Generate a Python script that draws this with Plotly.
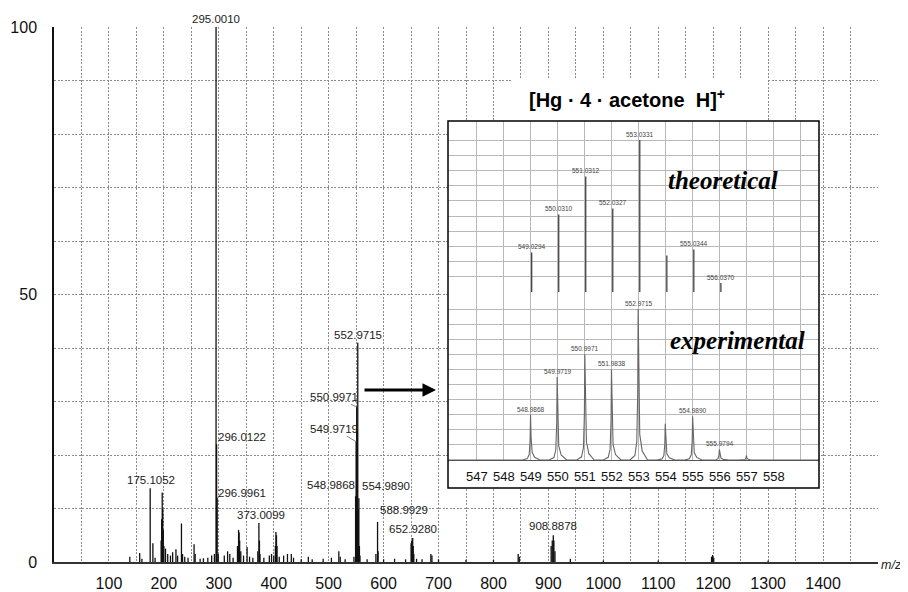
import plotly.graph_objects as go

# ---------------- data: main spectrum (m/z, relative intensity) ----------------
main_mz = [138, 156, 160, 175.1052, 180, 184, 195, 196, 197, 198, 199, 200, 203, 207, 212, 216,
           222, 225, 232, 234, 238, 244, 255, 257, 266, 272, 280, 287, 292,
           295.0010, 296.0122, 296.9961, 299, 310, 316, 320, 326, 334, 336, 337, 338, 340, 345,
           351.5, 356, 362, 371, 373.0099, 374, 375, 382, 392, 396, 400, 403, 404, 405, 406, 410,
           418, 425, 432, 436, 450, 463, 470, 490, 505, 518.5, 521, 530, 546,
           548.9868, 549.9719, 550.9971, 551.9838, 552.9715, 553.97, 554.9890, 555.98, 556.98,
           570, 586, 588.9929, 590, 600, 620, 640, 650, 651, 652.9280, 654, 655, 660, 670, 686, 688,
           700, 750, 800, 845, 847, 905, 907, 908.8878, 910, 912, 940, 1000, 1100, 1197, 1199, 1201, 1300]
main_int = [1.0, 1.7, 0.6, 13.8, 3.5, 0.8, 4, 8, 13, 10, 6, 3, 2.5, 1.5, 1.2, 1.8,
            2.4, 1.2, 7.2, 1.5, 1.0, 0.8, 3.3, 1.5, 0.6, 0.7, 0.8, 1.2, 1.5,
            100, 22, 12, 1.5, 1.2, 2.0, 1.5, 0.8, 3.0, 6.0, 5.5, 4.0, 2.0, 1.2,
            2.8, 1.0, 0.8, 2.0, 7.3, 4.0, 1.5, 0.8, 1.2, 1.5, 1.2, 3.0, 5.6, 5.0, 3.0, 1.0,
            1.2, 1.5, 1.5, 0.8, 0.5, 1.0, 0.5, 0.6, 0.8, 2.0, 1.0, 0.5, 1.0,
            12.3, 22.5, 29, 24.6, 41, 9.8, 11.9, 3.0, 1.2,
            0.5, 1.5, 7.5, 2.0, 0.5, 0.6, 0.5, 3.5, 4.0, 4.5, 3.0, 1.5, 0.6, 0.5, 1.5, 1.2,
            0.5, 0.4, 0.4, 1.5, 1.0, 3.0, 4.0, 5.0, 4.0, 2.0, 0.6, 0.3, 0.3, 1.0, 1.3, 0.8, 0.3]

# labelled peaks of the main spectrum
main_label_mz = [295.0010, 296.0122, 296.9961, 175.1052, 373.0099, 552.9715, 550.9971,
                 549.9719, 548.9868, 554.9890, 588.9929, 652.9280, 908.8878]
main_label_int = [100, 22, 12, 13.8, 7.3, 41, 29, 22.5, 12.3, 11.9, 7.5, 4.5, 5.0]
main_label_txt = ["295.0010", "296.0122", "296.9961", "175.1052", "373.0099", "552.9715", "550.9971",
                  "549.9719", "548.9868", "554.9890", "588.9929", "652.9280", "908.8878"]

main_x_ticks = [100, 200, 300, 400, 500, 600, 700, 800, 900, 1000, 1100, 1200, 1300, 1400]
main_y_ticks = [0, 50, 100]

# ---------------- data: inset (isotope pattern) ----------------
theo_mz = [549.0294, 550.0310, 551.0312, 552.0327, 553.0331, 554.035, 555.0344, 556.0370]
theo_int = [26, 51, 76, 55, 100, 24, 28, 6]
theo_txt = ["549.0294", "550.0310", "551.0312", "552.0327", "553.0331", "", "555.0344", "556.0370"]

exp_mz = [548.9868, 549.9719, 550.9971, 551.9838, 552.9715, 553.975, 554.9890, 555.9794, 556.98]
exp_int = [30, 55, 70, 60, 100, 24, 29, 7, 3]
exp_txt = ["548.9868", "549.9719", "550.9971", "551.9838", "552.9715", "", "554.9890", "555.9794", ""]

inset_ticks = [547, 548, 549, 550, 551, 552, 553, 554, 555, 556, 557, 558]

# ---------------- styles / layout constants ----------------
OFF = 8                      # page (body) margin of the html page
W, H = 908 - OFF, 592 - OFF  # figure size so that it fills the window
PL, PR, PT, PB = 54, 878, 27, 562   # plot area in window pixels
ML, MR, MT, MB = PL - OFF, W - (PR - OFF), PT - OFF, H - (PB - OFF)
XR = [0, 1500]
YR = [0, 100]
SANS = "Liberation Sans, Arial, sans-serif"
SERIF = "Liberation Serif, Times New Roman, serif"

def px2paper(px, py):
    return (px - PL) / (PR - PL), (PB - py) / (PB - PT)

# inset box in window pixels
IB_L, IB_R, IB_T, IB_B = 448, 819, 121, 488
SPLIT_Y = 292     # theoretical baseline
EXP_BASE_Y = 460  # experimental baseline
INSET_XR = [545.93, 559.67]

ix0, iy_top = px2paper(IB_L, IB_T)
ix1, iy_bot = px2paper(IB_R, IB_B)
_, iy_split = px2paper(0, SPLIT_Y)
_, iy_expb = px2paper(0, EXP_BASE_Y)

# peak profile shape used to draw the experimental (profile) spectrum
PROFILE_DX = [-0.30, -0.12, -0.05, -0.015, 0.0, 0.02, 0.06, 0.15, 0.35]
PROFILE_FY = [0.0, 0.03, 0.12, 0.45, 1.0, 0.5, 0.17, 0.06, 0.0]

fig = go.Figure()

# main stick spectrum
sx, sy = [], []
for m, v in zip(main_mz, main_int):
    sx += [m, m, None]
    sy += [0, v, None]
fig.add_trace(go.Scatter(x=sx, y=sy, mode="lines", line=dict(color="#111111", width=1.3),
                         hoverinfo="skip", showlegend=False, xaxis="x", yaxis="y"))

# theoretical sticks
tx, ty = [], []
for m, v in zip(theo_mz, theo_int):
    tx += [m, m, None]
    ty += [0, v, None]
fig.add_trace(go.Scatter(x=tx, y=ty, mode="lines", line=dict(color="#333333", width=1.2),
                         hoverinfo="skip", showlegend=False, xaxis="x2", yaxis="y2"))

# experimental profile
ex, ey = [INSET_XR[0]], [0]
for m, v in zip(exp_mz, exp_int):
    for dx, fy in zip(PROFILE_DX, PROFILE_FY):
        ex.append(m + dx)
        ey.append(v * fy)
ex.append(INSET_XR[1]); ey.append(0)
fig.add_trace(go.Scatter(x=ex, y=ey, mode="lines", line=dict(color="#666666", width=1.1),
                         hoverinfo="skip", showlegend=False, xaxis="x3", yaxis="y3"))

# ---------------- annotations ----------------
ann = []
label_style = {
    "295.0010": ("plain", "center", "bottom", 0, 0),
    "175.1052": ("plain", "center", "bottom", 1, 0),
    "373.0099": ("plain", "center", "bottom", 2, 0),
    "552.9715": ("plain", "center", "bottom", 0, 0),
    "588.9929": ("plain", "left", "bottom", 0, 4),
    "652.9280": ("plain", "center", "bottom", 0, 1),
    "908.8878": ("plain", "center", "bottom", 0, 1),
    "548.9868": ("plain", "right", "middle", 1, 11),
    "554.9890": ("plain", "left", "middle", 1, 12),
    "550.9971": ("arrow", -23, -10),
    "549.9719": ("arrow", -22, -13),
    "296.0122": ("arrow", 25, -7),
    "296.9961": ("arrow", 25, -5),
}
for m, v, t in zip(main_label_mz, main_label_int, main_label_txt):
    st = label_style[t]
    if st[0] == "plain":
        ann.append(dict(x=m, y=v, xref="x", yref="y", text=t, showarrow=False,
                        xanchor=st[1], yanchor=st[2], xshift=st[3], yshift=st[4],
                        font=dict(family=SANS, size=11.5, color="#222222")))
    else:
        ann.append(dict(x=m, y=v, xref="x", yref="y", text=t, showarrow=True,
                        ax=st[1], ay=st[2], arrowhead=0, arrowwidth=0.8, arrowcolor="#666666",
                        standoff=0, startstandoff=0,
                        font=dict(family=SANS, size=11.5, color="#222222")))

for m, v, t in zip(theo_mz, theo_int, theo_txt):
    if t:
        ann.append(dict(x=m, y=v, xref="x2", yref="y2", text=t, showarrow=False,
                        xanchor="center", yanchor="bottom", yshift=0,
                        font=dict(family=SANS, size=6.5, color="#444444")))
for m, v, t in zip(exp_mz, exp_int, exp_txt):
    if t:
        ann.append(dict(x=m, y=v, xref="x3", yref="y3", text=t, showarrow=False,
                        xanchor="center", yanchor="bottom", yshift=0,
                        font=dict(family=SANS, size=6.5, color="#444444")))

tx_, ty_ = px2paper(723, 180)
ann.append(dict(x=tx_, y=ty_, xref="paper", yref="paper", text="<b><i>theoretical</i></b>",
                showarrow=False, xanchor="center", yanchor="middle",
                font=dict(family=SERIF, size=25, color="#000000")))
ex_, ey_ = px2paper(737, 340)
ann.append(dict(x=ex_, y=ey_, xref="paper", yref="paper", text="<b><i>experimental</i></b>",
                showarrow=False, xanchor="center", yanchor="middle",
                font=dict(family=SERIF, size=25, color="#000000")))
hx, hy = px2paper(627, 99)
ann.append(dict(x=hx, y=hy, xref="paper", yref="paper",
                text="<b>[Hg\u00a0\u00b7\u00a04\u00a0\u00b7\u00a0acetone\u00a0\u00a0H]<sup>+</sup></b>",
                showarrow=False, xanchor="center", yanchor="middle",
                font=dict(family=SANS, size=20, color="#000000")))
axp, ayp = px2paper(436, 390)
ann.append(dict(x=axp, y=ayp, xref="paper", yref="paper", text="", showarrow=True,
                ax=-73, ay=0, arrowhead=2, arrowsize=0.9, arrowwidth=3, arrowcolor="#000000"))
mzx, mzy = px2paper(891, 565)
ann.append(dict(x=mzx, y=mzy, xref="paper", yref="paper", text="<i>m/z</i>", showarrow=False,
                xanchor="center", yanchor="middle", font=dict(family=SANS, size=12.5, color="#222222")))

# ---------------- shapes ----------------
def paper2x(p):
    return XR[0] + p * (XR[1] - XR[0])

def paper2y(p):
    return YR[0] + p * (YR[1] - YR[0])

tb_l, tb_t = px2paper(513, 78)
tb_r, _ = px2paper(767, 121)
shapes = [
    dict(type="rect", xref="x", yref="y", x0=paper2x(ix0), x1=paper2x(ix1),
         y0=paper2y(iy_bot), y1=paper2y(iy_top), fillcolor="white", line=dict(width=0), layer="between"),
    dict(type="rect", xref="x", yref="y", x0=paper2x(tb_l), x1=paper2x(tb_r),
         y0=paper2y(iy_top), y1=paper2y(tb_t), fillcolor="white", line=dict(width=0), layer="between"),
    dict(type="rect", xref="paper", yref="paper", x0=ix0, x1=ix1, y0=iy_bot, y1=iy_top,
         line=dict(color="#000000", width=1.5), fillcolor="rgba(0,0,0,0)", layer="above"),
]

GRID_C = "#8c8c8c"
GRID_D = "2px,1.5px"
INSET_GRID = "#b8b8b8"
fig.update_layout(
    width=W, height=H,
    margin=dict(l=ML, r=MR, t=MT, b=MB, autoexpand=False),
    paper_bgcolor="white", plot_bgcolor="white",
    showlegend=False,
    annotations=ann, shapes=shapes,
    xaxis=dict(domain=[0, 1], range=XR, anchor="y", tickmode="array", tickvals=main_x_ticks,
               ticks="", showgrid=True, gridcolor=GRID_C, gridwidth=1, griddash=GRID_D, automargin=False,
               minor=dict(tickmode="array", tickvals=[v for v in range(50, 1501, 50)], showgrid=True,
                          gridcolor=GRID_C, gridwidth=1, griddash=GRID_D, ticks=""),
               showline=True, linecolor="#333333", linewidth=1.5, zeroline=False,
               tickfont=dict(family=SANS, size=16, color="#111111"), ticklabelstandoff=6),
    yaxis=dict(domain=[0, 1], range=YR, anchor="x", tickmode="array", tickvals=main_y_ticks,
               ticks="", showgrid=True, gridcolor=GRID_C, gridwidth=1, griddash=GRID_D, automargin=False,
               minor=dict(tickmode="array", tickvals=[v for v in range(10, 100, 10)], showgrid=True,
                          gridcolor=GRID_C, gridwidth=1, griddash=GRID_D, ticks=""),
               showline=True, linecolor="#111111", linewidth=1.5, zeroline=False,
               tickfont=dict(family=SANS, size=16, color="#111111"), ticklabelstandoff=12),
    xaxis2=dict(domain=[ix0, ix1], range=INSET_XR, anchor="y2", tickmode="array", automargin=False,
                tickvals=inset_ticks + [559], showticklabels=False, ticks="",
                showgrid=True, gridcolor=INSET_GRID, gridwidth=1, zeroline=False,
                showline=True, linecolor="#888888", linewidth=1),
    yaxis2=dict(domain=[iy_split, iy_top], range=[0, 112.5], anchor="x2", tickmode="array", automargin=False,
                tickvals=list(range(10, 101, 10)), showticklabels=False, ticks="",
                showgrid=True, gridcolor=INSET_GRID, gridwidth=1, zeroline=False, showline=False),
    xaxis3=dict(domain=[ix0, ix1], range=INSET_XR, anchor="y3", tickmode="array", automargin=False,
                tickvals=inset_ticks + [559], ticktext=[str(t) for t in inset_ticks] + [" "], ticks="",
                showgrid=True, gridcolor=INSET_GRID, gridwidth=1, zeroline=False,
                showline=True, linecolor="#555555", linewidth=1.2,
                tickfont=dict(family=SANS, size=13, color="#111111"), ticklabelstandoff=4),
    yaxis3=dict(domain=[iy_expb, iy_split], range=[0, 111.3], anchor="x3", tickmode="array", automargin=False,
                tickvals=list(range(10, 101, 10)), showticklabels=False, ticks="",
                showgrid=True, gridcolor=INSET_GRID, gridwidth=1, zeroline=False, showline=False),
)

fig.write_html("out.html")
